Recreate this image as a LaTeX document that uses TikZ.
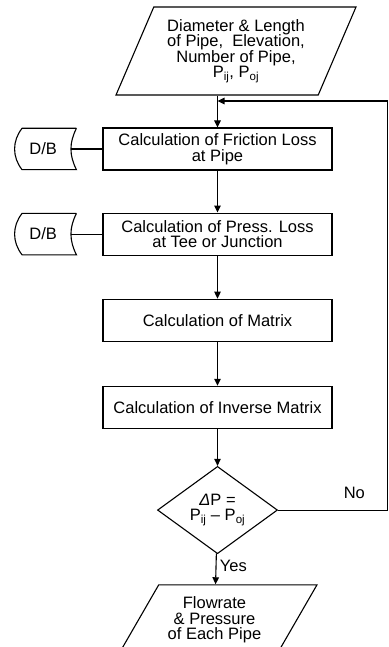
\documentclass[tikz,border=0pt]{standalone}
\usepackage{fontspec}
\setmainfont{Liberation Sans}
\usetikzlibrary{shapes.geometric, arrows.meta, positioning}

\begin{document}
\begin{tikzpicture}[x=1pt, y=1pt,
        font=\fontsize{16.5}{15.5}\selectfont,
        box/.style={rectangle, draw, align=center, minimum width=229pt, minimum height=42pt, inner sep=2pt, line width=1.1pt},
        io/.style={trapezium, trapezium left angle=60, trapezium right angle=120, trapezium stretches body, draw, align=center, inner sep=1pt, line width=1.1pt},
        check/.style={diamond, draw, align=center, minimum width=120pt, minimum height=80pt, inner sep=0pt, line width=1.1pt},
        dbstore/.style={minimum width=56pt, minimum height=41pt, inner sep=0pt},
        arrow/.style={-{Triangle[length=7pt, width=6.5pt]}, line width=1.1pt},
        line/.style={line width=1.1pt}
    ]
    \useasboundingbox (0,0) rectangle (388,-647);

    % INPUT
    \node[io, minimum width=240pt, minimum height=88pt] (in) at (236,-51) {Diameter \& Length\\of Pipe,~ Elevation,\\Number of Pipe,\\P\textsubscript{ij}, P\textsubscript{oj}};
    \coordinate (fb) at (217.5,-101);

    % CALCULATION STEPS
    \node[box] (fric) at (217.5,-149) {Calculation of Friction Loss\\at Pipe};
    \node[box] (tee) [below=42pt of fric] {Calculation of Press. Loss\\at Tee or Junction};
    \node[box] (mat) [below=43pt of tee] {Calculation of Matrix};
    \node[box] (inv) [below=44pt of mat] {Calculation of Inverse Matrix};
    \node[check] (chk) [below=37pt of inv] {{\itshape Δ}P =\\P\textsubscript{ij} -- P\textsubscript{oj}};

    % OUTPUT (runs off the lower edge, text kept clear of it)
    \node[io, minimum width=205pt, inner ysep=12pt] (out) [below=30pt of chk, xshift=-3pt] {Flowrate\\\& Pressure\\of Each Pipe\rule[-14pt]{0pt}{14pt}};

    % DATA BASES
    \node[dbstore] (db1) [left=31pt of fric] {D/B};
    \node[dbstore] (db2) [left=31pt of tee] {D/B};
    \draw[line] ([xshift=5pt]db1.north east) -- ([xshift=7pt]db1.north west) to[bend right=38] ([xshift=7pt]db1.south west) -- ([xshift=5pt]db1.south east) to[bend left=27] ([xshift=5pt]db1.north east);
    \draw[line] ([xshift=5pt]db2.north east) -- ([xshift=7pt]db2.north west) to[bend right=38] ([xshift=7pt]db2.south west) -- ([xshift=5pt]db2.south east) to[bend left=27] ([xshift=5pt]db2.north east);

    % ARROWS
    \draw[line] (db1) -- (fric);
    \draw[line] (db2) -- (tee);
    \draw[arrow] (in.south -| fric.north) -- (fric.north);
    \draw[arrow] (fric) -- (tee);
    \draw[arrow] (tee) -- (mat);
    \draw[arrow] (mat) -- (inv);
    \draw[arrow] (inv) -- (chk);
    \draw[arrow] (chk) -- node[right, pos=0.4] {Yes} (out);
    \draw[arrow] (chk.east) -- node[above=8pt, pos=0.7] {No} ++(109,0) |- (fb);
\end{tikzpicture}
\end{document}
